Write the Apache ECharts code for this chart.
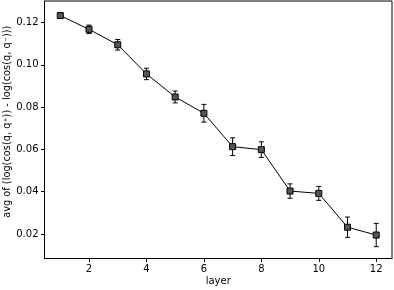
<!DOCTYPE html>
<html><head><meta charset="utf-8">
<script src="https://cdn.jsdelivr.net/npm/echarts@6/dist/echarts.min.js"></script>
<style>html,body{margin:0;padding:0;background:#fff}#c{width:394px;height:290px}</style>
</head><body><div id="c"></div>
<script>
const layers = [1,2,3,4,5,6,7,8,9,10,11,12];
const avgValues = [0.1233,0.1168,0.1095,0.0957,0.0848,0.0771,0.0613,0.0599,0.0403,0.0392,0.0232,0.0195];
const errValues = [0.0013,0.0020,0.0025,0.0027,0.0028,0.0042,0.0042,0.0037,0.0034,0.0033,0.0048,0.0055];
const xTicks = [2,4,6,8,10,12];
const yTicks = [0.02,0.04,0.06,0.08,0.10,0.12];

const font = 'DejaVu Sans';
const lineData = layers.map((x,i)=>[x, avgValues[i]]);
const errData = layers.map((x,i)=>[x, avgValues[i]-errValues[i], avgValues[i]+errValues[i]]);

const chart = echarts.init(document.getElementById('c'), null, {renderer:'canvas'});
chart.setOption({
  animation:false,
  backgroundColor:'#fff',
  grid:{left:44.5, top:1, right:2, bottom:31.5, containLabel:false, outerBoundsMode:'none', show:true, borderColor:'#000', borderWidth:1, backgroundColor:'transparent'},
  xAxis:{
    type:'value', min:0.45, max:12.55,
    name:'layer', nameLocation:'middle', nameGap:18, nameMoveOverlap:false,
    nameTextStyle:{fontFamily:font, fontSize:10, color:'#000'},
    axisLine:{show:true, onZero:false, lineStyle:{color:'#000', width:1}},
    axisTick:{show:true, length:3.5, customValues:xTicks, lineStyle:{color:'#000'}},
    axisLabel:{customValues:xTicks, margin:6, fontFamily:font, fontSize:10, color:'#000'},
    splitLine:{show:false}
  },
  yAxis:{
    type:'value', min:0.0084, max:0.1302,
    name:'avg of (log(cos(q, q⁺)) - log(cos(q, q⁻)))', nameLocation:'middle', nameRotate:90, nameGap:32, nameMoveOverlap:false,
    nameTextStyle:{fontFamily:font, fontSize:9.8, color:'#000', padding:[0,0,0,16]},
    axisLine:{show:true, onZero:false, lineStyle:{color:'#000', width:1}},
    axisTick:{show:true, length:3.5, customValues:yTicks, lineStyle:{color:'#000'}},
    axisLabel:{customValues:yTicks, margin:6, fontFamily:font, fontSize:10, color:'#000', formatter:v=>v.toFixed(2)},
    splitLine:{show:false}
  },
  series:[
    {
      type:'custom', data:errData, z:3,
      encode:{x:0, y:[1,2]},
      renderItem:function(params, api){
        const x = api.value(0);
        const lo = api.coord([x, api.value(1)]);
        const hi = api.coord([x, api.value(2)]);
        const w = 2.5;
        const st = {stroke:'#000', lineWidth:1};
        return {type:'group', children:[
          {type:'line', shape:{x1:lo[0], y1:lo[1], x2:hi[0], y2:hi[1]}, style:st},
          {type:'line', shape:{x1:lo[0]-w, y1:lo[1], x2:lo[0]+w, y2:lo[1]}, style:st},
          {type:'line', shape:{x1:hi[0]-w, y1:hi[1], x2:hi[0]+w, y2:hi[1]}, style:st}
        ]};
      }
    },
    {
      type:'line', data:lineData, z:4,
      symbol:'rect', symbolSize:6,
      lineStyle:{color:'#000', width:1},
      itemStyle:{color:'#555', borderColor:'#000', borderWidth:1}
    }
  ]
});
</script></body></html>
